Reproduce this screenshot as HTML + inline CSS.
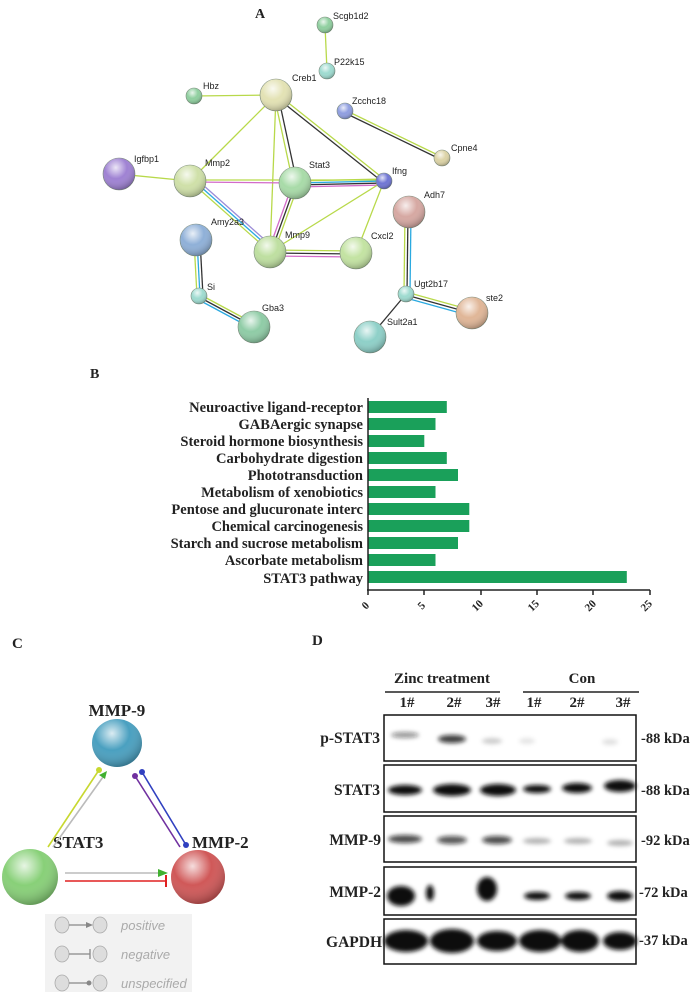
<!DOCTYPE html>
<html><head><meta charset="utf-8"><style>
body{margin:0;background:#fff}
svg{display:block}
.s{font-family:"Liberation Sans",sans-serif;font-size:9px;fill:#222}
.b{font-family:"Liberation Serif",serif;font-weight:bold;fill:#222}
</style></head><body>
<svg width="700" height="1000" viewBox="0 0 700 1000" xmlns="http://www.w3.org/2000/svg">
<defs>
<radialGradient id="g" cx="40%" cy="30%" r="70%"><stop offset="0" stop-color="#fff" stop-opacity=".8"/><stop offset=".5" stop-color="#fff" stop-opacity="0"/><stop offset="1" stop-color="#000" stop-opacity=".25"/></radialGradient>
<filter id="bl"><feGaussianBlur stdDeviation="2.2"/></filter>
</defs>
<text x="255" y="18" class="b" font-size="14">A</text>
<g stroke-width="1.3" fill="none">
<line x1="325" y1="25" x2="327" y2="71" stroke="#b8d94a"/>
<line x1="194" y1="96" x2="276" y2="95" stroke="#b8d94a"/>
<line x1="276" y1="95" x2="190" y2="181" stroke="#b8d94a"/>
<line x1="276" y1="95" x2="270" y2="252" stroke="#b8d94a"/>
<line x1="274" y1="95" x2="293" y2="183" stroke="#b8d94a"/>
<line x1="278" y1="95" x2="297" y2="183" stroke="#333"/>
<line x1="276" y1="93" x2="384" y2="179" stroke="#b8d94a"/>
<line x1="276" y1="97" x2="384" y2="183" stroke="#333"/>
<line x1="345" y1="110" x2="442" y2="157" stroke="#b8d94a"/>
<line x1="345" y1="113" x2="442" y2="160" stroke="#333"/>
<line x1="119" y1="174" x2="190" y2="181" stroke="#b8d94a"/>
<line x1="190" y1="180" x2="384" y2="180" stroke="#b8d94a"/>
<line x1="190" y1="182" x2="295" y2="183" stroke="#d36bc9"/>
<line x1="295" y1="181" x2="384" y2="179" stroke="#b8d94a"/>
<line x1="295" y1="183" x2="384" y2="181" stroke="#2aa9e0"/>
<line x1="295" y1="185" x2="384" y2="183" stroke="#333"/>
<line x1="295" y1="187" x2="384" y2="185" stroke="#d36bc9"/>
<line x1="190" y1="181" x2="270" y2="252" stroke="#b8d94a"/>
<line x1="192" y1="179" x2="272" y2="250" stroke="#2aa9e0"/>
<line x1="194" y1="177" x2="274" y2="248" stroke="#9b8cd8"/>
<line x1="293" y1="183" x2="268" y2="252" stroke="#d36bc9"/>
<line x1="296" y1="183" x2="271" y2="252" stroke="#333"/>
<line x1="299" y1="183" x2="274" y2="252" stroke="#b8d94a"/>
<line x1="384" y1="181" x2="270" y2="252" stroke="#b8d94a"/>
<line x1="384" y1="181" x2="356" y2="253" stroke="#b8d94a"/>
<line x1="270" y1="250" x2="356" y2="251" stroke="#b8d94a"/>
<line x1="270" y1="253" x2="356" y2="254" stroke="#333"/>
<line x1="270" y1="256" x2="356" y2="257" stroke="#d36bc9"/>
<line x1="194" y1="240" x2="197" y2="296" stroke="#b8d94a"/>
<line x1="197" y1="240" x2="200" y2="296" stroke="#2aa9e0"/>
<line x1="200" y1="240" x2="203" y2="296" stroke="#333"/>
<line x1="199" y1="294" x2="253" y2="323" stroke="#b8d94a"/>
<line x1="199" y1="297" x2="253" y2="326" stroke="#333"/>
<line x1="199" y1="300" x2="253" y2="329" stroke="#2aa9e0"/>
<line x1="405" y1="212" x2="404" y2="294" stroke="#b8d94a"/>
<line x1="408" y1="212" x2="407" y2="294" stroke="#333"/>
<line x1="411" y1="212" x2="410" y2="294" stroke="#2aa9e0"/>
<line x1="406" y1="292" x2="471" y2="310" stroke="#b8d94a"/>
<line x1="406" y1="295" x2="471" y2="313" stroke="#333"/>
<line x1="406" y1="298" x2="471" y2="316" stroke="#2aa9e0"/>
<line x1="406" y1="294" x2="370" y2="337" stroke="#333"/>
</g>
<g stroke="#7a8a7a" stroke-width=".6">
<circle cx="325" cy="25" r="8" fill="#8fcf9f"/>
<circle cx="327" cy="71" r="8" fill="#9edbd0"/>
<circle cx="276" cy="95" r="16" fill="#e3e2b4"/>
<circle cx="194" cy="96" r="8" fill="#8fcf9f"/>
<circle cx="345" cy="111" r="8" fill="#8f9ee0"/>
<circle cx="442" cy="158" r="8" fill="#dcd3a6"/>
<circle cx="119" cy="174" r="16" fill="#9f82d3"/>
<circle cx="190" cy="181" r="16" fill="#cfe0a8"/>
<circle cx="295" cy="183" r="16" fill="#a8dba8"/>
<circle cx="384" cy="181" r="8" fill="#6f75d4"/>
<circle cx="409" cy="212" r="16" fill="#d6a8a2"/>
<circle cx="196" cy="240" r="16" fill="#8fb0d8"/>
<circle cx="270" cy="252" r="16" fill="#bedfa0"/>
<circle cx="356" cy="253" r="16" fill="#c3e3a2"/>
<circle cx="199" cy="296" r="8" fill="#9edbd0"/>
<circle cx="406" cy="294" r="8" fill="#9edbd0"/>
<circle cx="254" cy="327" r="16" fill="#8fcca6"/>
<circle cx="472" cy="313" r="16" fill="#e0b697"/>
<circle cx="370" cy="337" r="16" fill="#8ed0c8"/>
</g>
<g fill="url(#g)">
<circle cx="325" cy="25" r="8"/><circle cx="327" cy="71" r="8"/><circle cx="276" cy="95" r="16"/><circle cx="194" cy="96" r="8"/><circle cx="345" cy="111" r="8"/><circle cx="442" cy="158" r="8"/><circle cx="119" cy="174" r="16"/><circle cx="190" cy="181" r="16"/><circle cx="295" cy="183" r="16"/><circle cx="384" cy="181" r="8"/><circle cx="409" cy="212" r="16"/><circle cx="196" cy="240" r="16"/><circle cx="270" cy="252" r="16"/><circle cx="356" cy="253" r="16"/><circle cx="199" cy="296" r="8"/><circle cx="406" cy="294" r="8"/><circle cx="254" cy="327" r="16"/><circle cx="472" cy="313" r="16"/><circle cx="370" cy="337" r="16"/>
</g>
<g class="s">
<text x="333" y="19">Scgb1d2</text><text x="334" y="65">P22k15</text><text x="292" y="81">Creb1</text>
<text x="203" y="89">Hbz</text><text x="352" y="104">Zcchc18</text><text x="451" y="151">Cpne4</text>
<text x="134" y="162">Igfbp1</text><text x="205" y="166">Mmp2</text><text x="309" y="168">Stat3</text>
<text x="392" y="174">Ifng</text><text x="424" y="198">Adh7</text><text x="211" y="225">Amy2a3</text>
<text x="285" y="238">Mmp9</text><text x="371" y="239">Cxcl2</text><text x="207" y="290">Si</text>
<text x="414" y="287">Ugt2b17</text><text x="262" y="311">Gba3</text><text x="486" y="301">ste2</text><text x="387" y="325">Sult2a1</text>
</g>
<!-- B -->
<text x="90" y="378" class="b" font-size="14">B</text>
<g fill="#1aa05a">
<rect x="368" y="401" width="78.8" height="12"/>
<rect x="368" y="418" width="67.5" height="12"/>
<rect x="368" y="435" width="56.3" height="12"/>
<rect x="368" y="452" width="78.8" height="12"/>
<rect x="368" y="469" width="90" height="12"/>
<rect x="368" y="486" width="67.5" height="12"/>
<rect x="368" y="503" width="101.3" height="12"/>
<rect x="368" y="520" width="101.3" height="12"/>
<rect x="368" y="537" width="90" height="12"/>
<rect x="368" y="554" width="67.5" height="12"/>
<rect x="368" y="571" width="258.8" height="12"/>
</g>
<g stroke="#222" stroke-width="1.5">
<line x1="368" y1="398" x2="368" y2="590"/><line x1="367" y1="590" x2="650" y2="590"/>
<line x1="368" y1="590" x2="368" y2="595"/><line x1="424" y1="590" x2="424" y2="595"/><line x1="481" y1="590" x2="481" y2="595"/><line x1="537" y1="590" x2="537" y2="595"/><line x1="593" y1="590" x2="593" y2="595"/><line x1="650" y1="590" x2="650" y2="595"/>
</g>
<g class="b" font-size="14.5" text-anchor="end">
<text x="363" y="412">Neuroactive ligand-receptor</text>
<text x="363" y="429">GABAergic synapse</text>
<text x="363" y="446">Steroid hormone biosynthesis</text>
<text x="363" y="463">Carbohydrate digestion</text>
<text x="363" y="480">Phototransduction</text>
<text x="363" y="497">Metabolism of xenobiotics</text>
<text x="363" y="514">Pentose and glucuronate interc</text>
<text x="363" y="531">Chemical carcinogenesis</text>
<text x="363" y="548">Starch and sucrose metabolism</text>
<text x="363" y="565">Ascorbate metabolism</text>
<text x="363" y="583">STAT3 pathway</text>
</g>
<g class="b" font-size="11">
<text transform="translate(366,610) rotate(-45)">0</text>
<text transform="translate(422,610) rotate(-45)">5</text>
<text transform="translate(476,612) rotate(-45)">10</text>
<text transform="translate(532,612) rotate(-45)">15</text>
<text transform="translate(589,612) rotate(-45)">20</text>
<text transform="translate(645,612) rotate(-45)">25</text>
</g>
<!-- C -->
<text x="12" y="648" class="b" font-size="15">C</text>
<text x="117" y="716" class="b" font-size="17" text-anchor="middle">MMP-9</text>
<text x="53" y="848" class="b" font-size="17">STAT3</text>
<text x="192" y="848" class="b" font-size="17">MMP-2</text>
<line x1="48" y1="847" x2="99" y2="770" stroke="#c8d830" stroke-width="1.6"/>
<circle cx="99" cy="770" r="3" fill="#c8d830"/>
<line x1="53" y1="847" x2="103" y2="777" stroke="#bbb" stroke-width="1.6"/>
<polygon points="107,771 99,775 105,779" fill="#40b030"/>
<line x1="135" y1="776" x2="180" y2="847" stroke="#7030a0" stroke-width="1.6"/>
<line x1="142" y1="772" x2="186" y2="845" stroke="#3040c0" stroke-width="1.6"/>
<circle cx="135" cy="776" r="3" fill="#7030a0"/><circle cx="142" cy="772" r="3" fill="#3040c0"/><circle cx="186" cy="845" r="3" fill="#3040c0"/>
<line x1="65" y1="873" x2="160" y2="873" stroke="#bbb" stroke-width="1.6"/>
<polygon points="168,873 158,869 158,877" fill="#40b030"/>
<line x1="65" y1="881" x2="165" y2="881" stroke="#e02020" stroke-width="1.6"/>
<line x1="166" y1="875" x2="166" y2="887" stroke="#e02020" stroke-width="2"/>
<ellipse cx="117" cy="743" rx="25" ry="24" fill="#4aa0c0"/>
<ellipse cx="117" cy="743" rx="25" ry="24" fill="url(#g)"/>
<ellipse cx="30" cy="877" rx="28" ry="28" fill="#88d078"/>
<ellipse cx="30" cy="877" rx="28" ry="28" fill="url(#g)"/>
<ellipse cx="198" cy="877" rx="27" ry="27" fill="#d05858"/>
<ellipse cx="198" cy="877" rx="27" ry="27" fill="url(#g)"/>
<rect x="45" y="914" width="147" height="78" fill="#f2f2f2"/>
<g fill="#ddd" stroke="#aaa" stroke-width=".8">
<ellipse cx="62" cy="925" rx="7" ry="8"/><ellipse cx="100" cy="925" rx="7" ry="8"/>
<ellipse cx="62" cy="954" rx="7" ry="8"/><ellipse cx="100" cy="954" rx="7" ry="8"/>
<ellipse cx="62" cy="983" rx="7" ry="8"/><ellipse cx="100" cy="983" rx="7" ry="8"/>
</g>
<g stroke="#888" stroke-width="1.3"><line x1="69" y1="925" x2="88" y2="925"/><line x1="69" y1="954" x2="90" y2="954"/><line x1="90" y1="949" x2="90" y2="959"/><line x1="69" y1="983" x2="88" y2="983"/></g>
<polygon points="93,925 86,922 86,928" fill="#888"/><circle cx="89" cy="983" r="2.5" fill="#888"/>
<g font-family="Liberation Sans,sans-serif" font-style="italic" font-size="13" fill="#aaa">
<text x="121" y="930">positive</text><text x="121" y="959">negative</text><text x="121" y="988">unspecified</text>
</g>
<!-- D -->
<text x="312" y="645" class="b" font-size="15">D</text>
<text x="442" y="683" class="b" font-size="15" text-anchor="middle">Zinc treatment</text>
<text x="582" y="683" class="b" font-size="15" text-anchor="middle">Con</text>
<line x1="385" y1="692" x2="500" y2="692" stroke="#222" stroke-width="1.5"/>
<line x1="523" y1="692" x2="639" y2="692" stroke="#222" stroke-width="1.5"/>
<g class="b" font-size="15" text-anchor="middle">
<text x="407" y="707">1#</text><text x="454" y="707">2#</text><text x="493" y="707">3#</text>
<text x="534" y="707">1#</text><text x="577" y="707">2#</text><text x="623" y="707">3#</text>
</g>
<g fill="#fff" stroke="#111" stroke-width="1.5">
<rect x="384" y="715" width="252" height="46"/>
<rect x="384" y="765" width="252" height="47"/>
<rect x="384" y="816" width="252" height="46"/>
<rect x="384" y="867" width="252" height="48"/>
<rect x="384" y="919" width="252" height="45"/>
</g>
<g fill="#111" filter="url(#bl)">
<ellipse cx="405" cy="735" rx="14" ry="3" opacity=".45"/><ellipse cx="452" cy="739" rx="14" ry="4" opacity=".8"/><ellipse cx="492" cy="741" rx="10" ry="3" opacity=".2"/><ellipse cx="527" cy="741" rx="8" ry="3" opacity=".1"/><ellipse cx="610" cy="742" rx="8" ry="3" opacity=".12"/>
<ellipse cx="405" cy="790" rx="17" ry="5"/><ellipse cx="452" cy="790" rx="19" ry="6"/><ellipse cx="498" cy="790" rx="18" ry="6"/><ellipse cx="537" cy="789" rx="14" ry="4"/><ellipse cx="577" cy="788" rx="15" ry="5"/><ellipse cx="620" cy="786" rx="16" ry="6"/>
<ellipse cx="405" cy="839" rx="17" ry="4" opacity=".75"/><ellipse cx="452" cy="840" rx="15" ry="4" opacity=".7"/><ellipse cx="497" cy="840" rx="15" ry="4" opacity=".75"/><ellipse cx="537" cy="841" rx="14" ry="3" opacity=".3"/><ellipse cx="578" cy="841" rx="14" ry="3" opacity=".3"/><ellipse cx="620" cy="843" rx="13" ry="3" opacity=".3"/>
<ellipse cx="401" cy="896" rx="14" ry="10"/><ellipse cx="430" cy="893" rx="4" ry="8"/><ellipse cx="487" cy="889" rx="10" ry="12"/><ellipse cx="537" cy="896" rx="13" ry="4"/><ellipse cx="578" cy="896" rx="13" ry="4"/><ellipse cx="620" cy="896" rx="13" ry="5"/>
<ellipse cx="406" cy="941" rx="22" ry="11"/><ellipse cx="452" cy="941" rx="22" ry="12"/><ellipse cx="497" cy="941" rx="20" ry="10"/><ellipse cx="540" cy="941" rx="21" ry="11"/><ellipse cx="580" cy="941" rx="19" ry="11"/><ellipse cx="620" cy="941" rx="17" ry="9"/>
</g>
<g class="b" font-size="15.5" text-anchor="end">
<text x="380" y="743">p-STAT3</text><text x="380" y="795">STAT3</text><text x="381" y="845">MMP-9</text><text x="381" y="897">MMP-2</text><text x="382" y="947">GAPDH</text>
</g>
<g class="b" font-size="14.5">
<text x="641" y="743">-88 kDa</text><text x="641" y="795">-88 kDa</text><text x="641" y="845">-92 kDa</text><text x="639" y="897">-72 kDa</text><text x="639" y="945">-37 kDa</text>
</g>
</svg>
</body></html>
